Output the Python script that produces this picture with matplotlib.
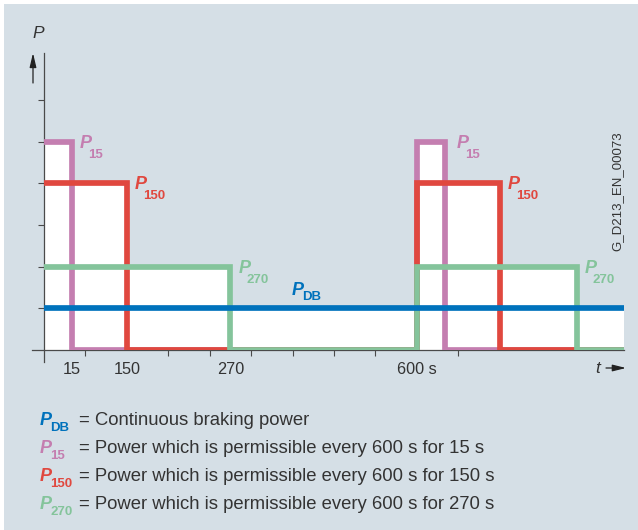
import numpy as np
import matplotlib as mpl
mpl.rcParams['font.family'] = ['Liberation Sans', 'DejaVu Sans']
from matplotlib import pyplot as plt
from matplotlib.patches import Rectangle

# step profiles: switching instants [s] and power levels (relative units)
t_end = 930
t_p15 = [0, 15, 600, 615, t_end]
p15 = [5, 0, 5, 0, 0]
t_p150 = [0, 150, 600, 750, t_end]
p150 = [4, 0, 4, 0, 0]
t_p270 = [0, 270, 600, 870, t_end]
p270 = [2, 0, 2, 0, 0]
t_pdb = [0, t_end]
pdb = [1, 1]

tick_times = [15, 150, 270, 600]
tick_labels = ['15', '150', '270', '600 s']

legend_subs = ['DB', '15', '150', '270']
legend_texts = ['= Continuous braking power',
                '= Power which is permissible every 600 s for 15 s',
                '= Power which is permissible every 600 s for 150 s',
                '= Power which is permissible every 600 s for 270 s']

# schematic (not to scale) time axis
T_KNOTS = [0, 15, 150, 270, 600, 615, 750, 870, t_end]
U_KNOTS = [0, 0.68, 2.0, 4.5, 9.0, 9.68, 11.0, 12.86, 14.0]


def fwd(t):
    return np.interp(t, T_KNOTS, U_KNOTS)


def inv(u):
    return np.interp(u, U_KNOTS, T_KNOTS)


C_BG = '#d5dfe6'
C_TXT = '#333333'
C_AX = '#4a4a4a'
C15 = '#c47eb0'
C150 = '#e0483f'
C270 = '#84c49b'
CDB = '#0072bc'

W, H = 638, 530
fig = plt.figure(figsize=(W / 100, H / 100), dpi=100, facecolor='white')
fig.patches.append(Rectangle((4 / W, 0), 1, 1 - 4 / H, transform=fig.transFigure,
                             facecolor=C_BG, edgecolor='none', zorder=-10))

ax = fig.add_axes([44 / W, (H - 350) / H, 580 / W, 297 / H])
ax.set_facecolor('none')
ax.set_xscale('function', functions=(fwd, inv))
ax.set_xlim(0, t_end)
ax.set_ylim(0, 7.13)
for s in ax.spines.values():
    s.set_visible(False)

series = [(t_p15, p15, C15, 2), (t_p150, p150, C150, 3),
          (t_p270, p270, C270, 4), (t_pdb, pdb, CDB, 5)]
for t, p, c, z in series:
    ax.fill_between(t, p, step='post', color='white', lw=0, zorder=1)
for t, p, c, z in series:
    ax.plot(t, p, drawstyle='steps-post', color=c, lw=4.1,
            solid_capstyle='butt', solid_joinstyle='miter', zorder=z)

# axes with a short overhang past the origin
ax.axvline(0, ymin=-12 / 297, ymax=1, color=C_AX, lw=0.9, clip_on=False, zorder=1.5)
ax.axhline(0, xmin=-12 / 580, xmax=1, color=C_AX, lw=0.9, clip_on=False, zorder=1.5)

ax.set_yticks(range(1, 7))
ax.set_yticklabels([])
ax.tick_params(axis='y', direction='out', length=4.3, width=0.8, color=C_AX)
ax.set_xticks(tick_times, labels=tick_labels)
ax.set_xticks(inv(np.arange(1, 11)), minor=True)
ax.tick_params(axis='x', which='major', length=0, pad=9, labelsize=11.7,
               labelcolor=C_TXT)
ax.tick_params(axis='x', which='minor', direction='out', length=4, width=0.8,
               color=C_AX)

# curve labels P with subscript
labels = [(15, 5, C15, '15', 8), (150, 4, C150, '150', 8), (270, 2, C270, '270', 8),
          (615, 5, C15, '15', 12), (750, 4, C150, '150', 8), (870, 2, C270, '270', 8)]
for t, lvl, c, sub, dx in labels:
    ax.annotate('P', (t, lvl), xytext=(dx, -6), textcoords='offset pixels',
                color=c, fontsize=13, fontweight='bold', fontstyle='italic',
                va='baseline', ha='left')
    ax.annotate(sub, (t, lvl), xytext=(dx + 8, -16), textcoords='offset pixels',
                color=c, fontsize=9.5, fontweight='bold', va='baseline', ha='left')
ax.annotate('P', (378, 1), xytext=(0, 13), textcoords='offset pixels', color=CDB,
            fontsize=13, fontweight='bold', fontstyle='italic', va='baseline')
ax.annotate('DB', (378, 1), xytext=(11, 8), textcoords='offset pixels', color=CDB,
            fontsize=9.5, fontweight='bold', va='baseline')


def fx(px):
    return px / W


def fy(py):
    return 1 - py / H


# axis names and arrows
fig.text(fx(32), fy(38), 'P', fontsize=12.5, fontstyle='italic', color=C_TXT)
ax.annotate('', xy=(fx(33), fy(53)), xytext=(fx(33), fy(83)), xycoords='figure fraction',
            arrowprops=dict(arrowstyle='-|>,head_length=0.85,head_width=0.2',
                            color='#222222', lw=0.9, shrinkA=0, shrinkB=0))
fig.text(fx(595), fy(373), 't', fontsize=12.5, fontstyle='italic', color=C_TXT)
ax.annotate('', xy=(fx(626), fy(368)), xytext=(fx(606), fy(368)), xycoords='figure fraction',
            arrowprops=dict(arrowstyle='-|>,head_length=0.8,head_width=0.2',
                            color='#222222', lw=0.9, shrinkA=0, shrinkB=0))
fig.text(fx(617), fy(191), 'G_D213_EN_00073', rotation=90, fontsize=9.5,
         color=C_TXT, ha='center', va='center')

# key
row_y = [425, 453, 481, 509]
for y, sub, txt, c in zip(row_y, legend_subs, legend_texts, [CDB, C15, C150, C270]):
    fig.text(fx(40), fy(y), 'P', fontsize=13, fontweight='bold', fontstyle='italic',
             color=c, va='baseline')
    fig.text(fx(50), fy(y + 6), sub, fontsize=9.5, fontweight='bold', color=c,
             va='baseline')
    fig.text(fx(79), fy(y), txt, fontsize=13.3, color=C_TXT, va='baseline')

fig.savefig('out.png', dpi=100)
